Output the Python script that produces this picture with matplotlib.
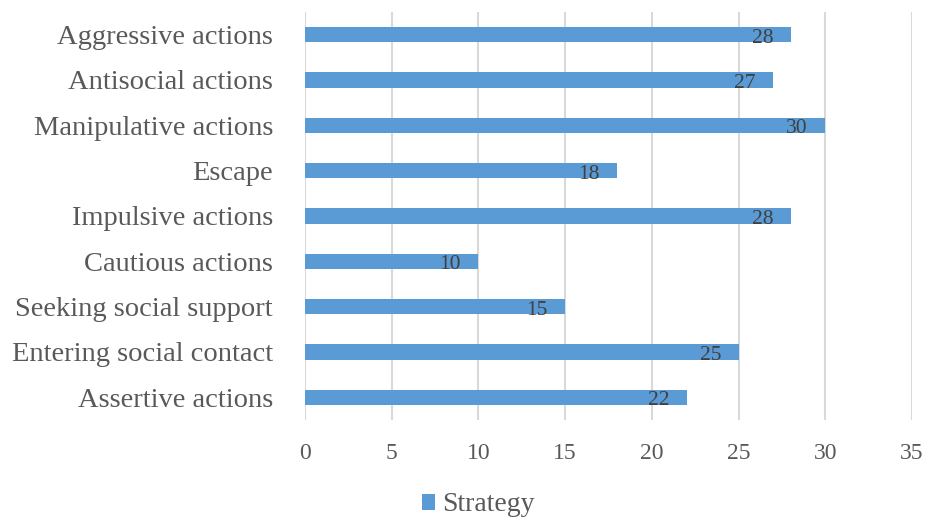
import matplotlib
matplotlib.use("Agg")
import matplotlib.pyplot as plt
from matplotlib.patches import Patch

categories = ["Aggressive actions", "Antisocial actions", "Manipulative actions", "Escape",
              "Impulsive actions", "Cautious actions", "Seeking social support",
              "Entering social contact", "Assertive actions"]
values = [28, 27, 30, 18, 28, 10, 15, 25, 22]
series_name = "Strategy"
xticks = [0, 5, 10, 15, 20, 25, 30, 35]

plt.rcParams['font.family'] = ['Liberation Serif', 'DejaVu Serif']

fig = plt.figure(figsize=(9.25, 5.19), dpi=100)
ax = fig.add_axes([0.3297, 0.191, 0.986 - 0.3297, 0.977 - 0.191])

color = '#5B9BD5'
ypos = list(range(len(categories)))[::-1]
ax.barh(ypos, values, height=0.34, color=color, zorder=3)

for y, v in zip(ypos, values):
    ax.annotate(str(v), xy=(v, y), xytext=(-12.5, -2.5), textcoords='offset points',
                ha='right', va='center', fontsize=15.5, color='#404040', zorder=4)

ax.set_xlim(0, 35)
ax.set_ylim(-0.5, len(categories) - 0.5)
ax.set_xticks(xticks)
ax.set_yticks(ypos)
ax.set_yticklabels(categories)
ax.tick_params(axis='y', length=0, pad=23, labelsize=20.5, labelcolor='#595959')
ax.tick_params(axis='x', length=0, pad=17, labelsize=17, labelcolor='#595959')
for s in ax.spines.values():
    s.set_visible(False)
ax.grid(axis='x', color='#D9D9D9', linewidth=1.5, zorder=0)
ax.set_axisbelow(True)

handle = Patch(facecolor=color, edgecolor='none')
fig.legend([handle], [series_name], loc='center', bbox_to_anchor=(0.517, 0.027),
           frameon=False, fontsize=20, handlelength=0.5, handleheight=0.5,
           handletextpad=0.25, labelcolor='#595959')

fig.savefig("out.png", dpi=100)
